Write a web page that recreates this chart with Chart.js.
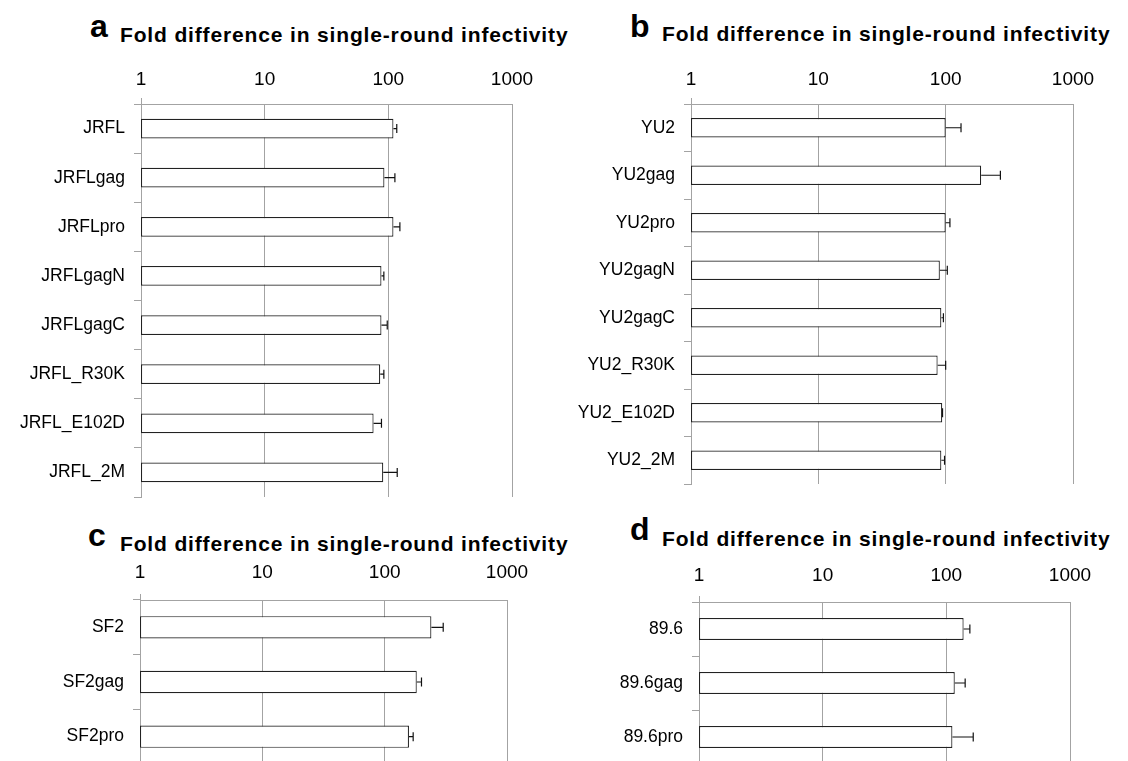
<!DOCTYPE html>
<html>
<head>
<meta charset="utf-8">
<script src="https://cdn.jsdelivr.net/npm/chart.js@4.4.0/dist/chart.umd.min.js"></script>
<style>
  body { margin: 0; width: 1128px; height: 761px; overflow: hidden; background: #fff; position: relative;
         font-family: 'Liberation Sans', Arial, sans-serif; color: #000; }
  .letter { position: absolute; font-weight: bold; font-size: 32px; line-height: 1; }
  .title { position: absolute; font-weight: bold; font-size: 21px; letter-spacing: 0.85px; line-height: 1; white-space: nowrap; }
  canvas { position: absolute; }
</style>
</head>
<body>
<div class="letter" style="left:90px;top:10px">a</div>
<div class="title" style="left:120px;top:24px">Fold difference in single-round infectivity</div>
<div class="letter" style="left:630px;top:10px">b</div>
<div class="title" style="left:662px;top:23px">Fold difference in single-round infectivity</div>
<div class="letter" style="left:88px;top:519px">c</div>
<div class="title" style="left:120px;top:533px">Fold difference in single-round infectivity</div>
<div class="letter" style="left:630px;top:513px">d</div>
<div class="title" style="left:662px;top:528px">Fold difference in single-round infectivity</div>

<canvas id="chartA" width="560" height="455" style="left:0;top:50px"></canvas>
<canvas id="chartB" width="568" height="450" style="left:560px;top:50px"></canvas>
<canvas id="chartC" width="560" height="230" style="left:0;top:545px"></canvas>
<canvas id="chartD" width="568" height="230" style="left:560px;top:545px"></canvas>

<script>
// tick labels on the log axis
const tickValues = [1, 10, 100, 1000];

// panel a
const labelsA = ['JRFL', 'JRFLgag', 'JRFLpro', 'JRFLgagN', 'JRFLgagC', 'JRFL_R30K', 'JRFL_E102D', 'JRFL_2M'];
const valuesA = [110, 93, 110, 88, 88, 86, 76, 91];
const errorsA = [7, 20, 14, 4, 10, 6, 12, 27];

// panel b
const labelsB = ['YU2', 'YU2gag', 'YU2pro', 'YU2gagN', 'YU2gagC', 'YU2_R30K', 'YU2_E102D', 'YU2_2M'];
const valuesB = [100, 190, 100, 90, 92.5, 86.5, 94, 92.5];
const errorsB = [32, 79, 8, 13, 3.5, 13.5, 0.5, 5.5];

// panel c
const labelsC = ['SF2', 'SF2gag', 'SF2pro'];
const valuesC = [241, 183, 158];
const errorsC = [60, 17, 13];

// panel d
const labelsD = ['89.6', '89.6gag', '89.6pro'];
const valuesD = [138, 117, 112];
const errorsD = [17, 25, 53];

const gridGray = '#a3a3a3';
const fontFamily = "'Liberation Sans', Arial, sans-serif";

// error bars: line from bar end to value+error, with a cap
const errorBars = {
    id: 'errorBars',
    afterDatasetsDraw(chart) {
        const ctx = chart.ctx;
        const xs = chart.scales.x;
        const ds = chart.data.datasets[0];
        const meta = chart.getDatasetMeta(0);
        ctx.save();
        ctx.strokeStyle = '#111';
        ctx.lineWidth = 1.2;
        meta.data.forEach((bar, i) => {
            const e = ds.errors[i];
            if (!e) return;
            const x1 = xs.getPixelForValue(ds.data[i] + e);
            ctx.beginPath();
            ctx.moveTo(bar.x, bar.y);
            ctx.lineTo(x1, bar.y);
            ctx.moveTo(x1, bar.y - 4.5);
            ctx.lineTo(x1, bar.y + 4.5);
            ctx.stroke();
        });
        ctx.restore();
    }
};

function noPad(scale) {
    scale.paddingTop = 0;
    scale.paddingBottom = 0;
    scale.paddingLeft = 0;
    scale.paddingRight = 0;
}

function makeChart(id, labels, values, errors, cfg) {
    new Chart(document.getElementById(id), {
        type: 'bar',
        data: {
            labels: labels,
            datasets: [{
                data: values,
                errors: errors,
                backgroundColor: '#fff',
                borderColor: '#222',
                borderWidth: 1.2,
                borderSkipped: false,
                barPercentage: cfg.barPct,
                categoryPercentage: 1
            }]
        },
        options: {
            indexAxis: 'y',
            responsive: false,
            animation: false,
            layout: { padding: { left: 0, top: 0, right: cfg.padRight, bottom: cfg.padBottom } },
            plugins: { legend: { display: false }, tooltip: { enabled: false } },
            scales: {
                x: {
                    type: 'logarithmic',
                    position: 'top',
                    min: 1,
                    max: 1000,
                    afterBuildTicks: scale => { scale.ticks = tickValues.map(v => ({ value: v })); },
                    afterFit: scale => { scale.height = cfg.xHeight; noPad(scale); },
                    grid: {
                        color: gridGray,
                        lineWidth: 1,
                        tickLength: 6,
                        tickColor: c => c.index === 0 ? gridGray : 'rgba(0,0,0,0)'
                    },
                    border: { color: gridGray },
                    ticks: {
                        padding: cfg.xPad,
                        autoSkip: false,
                        maxRotation: 0,
                        color: '#000',
                        font: { family: fontFamily, size: 19 },
                        callback: v => String(v)
                    }
                },
                y: {
                    afterFit: scale => { scale.width = cfg.yWidth; noPad(scale); },
                    grid: { drawOnChartArea: false, tickLength: 7, color: gridGray },
                    border: { color: gridGray },
                    ticks: {
                        padding: 9,
                        color: '#000',
                        font: { family: fontFamily, size: 17.5 }
                    }
                }
            }
        },
        plugins: [errorBars]
    });
}

makeChart('chartA', labelsA, valuesA, errorsA, { yWidth: 141, xHeight: 54, padRight: 48, padBottom: 8, xPad: 7, barPct: 0.4 });
makeChart('chartB', labelsB, valuesB, errorsB, { yWidth: 131, xHeight: 54, padRight: 55, padBottom: 16, xPad: 7, barPct: 0.41 });
makeChart('chartC', labelsC, valuesC, errorsC, { yWidth: 140, xHeight: 55, padRight: 53, padBottom: 11, xPad: 10, barPct: 0.41 });
makeChart('chartD', labelsD, valuesD, errorsD, { yWidth: 139, xHeight: 57, padRight: 58, padBottom: 11, xPad: 9, barPct: 0.41 });
</script>
</body>
</html>
